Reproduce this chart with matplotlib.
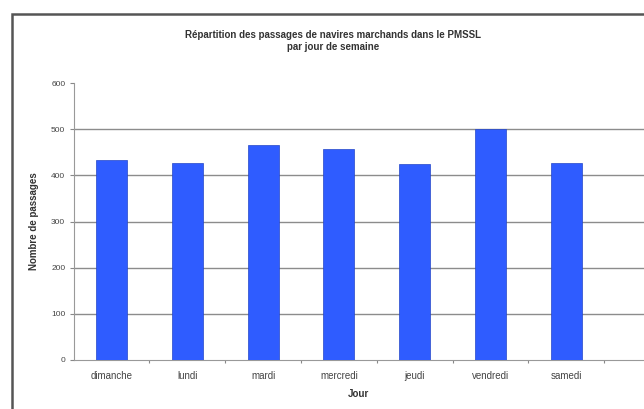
import matplotlib
matplotlib.use("Agg")
import matplotlib.pyplot as plt
from matplotlib.patches import Rectangle

jours = ["dimanche", "lundi", "mardi", "mercredi", "jeudi", "vendredi", "samedi"]
passages = [434, 426, 465, 458, 424, 501, 426]
yticks = [0, 100, 200, 300, 400, 500, 600]

plt.rcParams["font.family"] = ["Liberation Sans", "DejaVu Sans"]

W, H = 644, 409
fig = plt.figure(figsize=(W / 100, H / 100), dpi=100)

# outer chart frame (runs off the right and bottom edges)
fig.patches.append(Rectangle((12.5 / W, -0.05), 1.2, 1 - 14.5 / H + 0.05,
                             transform=fig.transFigure, fill=False,
                             edgecolor="#555555", linewidth=1.8, zorder=0))

left, right = 73.6, W
bottom, top = 360, 83
ax = fig.add_axes([left / W, 1 - bottom / H, (right - left) / W, (bottom - top) / H])
ax.set_facecolor("none")

x = range(len(jours))
ax.bar(x, passages, width=0.41, color="#2f5cff", edgecolor="#2446c8",
       linewidth=0.5, zorder=3)

ax.set_ylim(0, 600)
ax.set_xlim(-0.5, -0.5 + (right - left) / 75.8)
ax.set_yticks(yticks)
ax.set_yticklabels([str(v) for v in yticks], fontsize=6, color="#444444")
ax.set_xticks(list(x))
ax.set_xticklabels(jours, fontsize=7, color="#444444")
ax.set_xticks([i + 0.5 for i in range(len(jours))], minor=True)
ax.tick_params(axis="x", which="major", length=0, pad=8)
ax.tick_params(axis="x", which="minor", length=2.5, width=0.8, color="#888888")
ax.tick_params(axis="y", length=3, width=0.8, color="#888888", pad=3)

ax.yaxis.grid(True, color="#8c8c8c", linewidth=1.0, zorder=0)
ax.set_axisbelow(True)
gl = ax.get_ygridlines()
gl[0].set_visible(False)
gl[-1].set_visible(False)
for s in ["top", "right"]:
    ax.spines[s].set_visible(False)
ax.spines["left"].set_color("#999999")
ax.spines["bottom"].set_color("#999999")
ax.spines["left"].set_linewidth(0.8)
ax.spines["bottom"].set_linewidth(0.8)

ax.set_ylabel("Nombre de passages", fontsize=7, fontweight="bold",
              color="#333333", labelpad=9)
ax.set_xlabel("Jour", fontsize=7, fontweight="bold", color="#333333",
              labelpad=6)

fig.text(333 / W, 1 - 41 / H,
         "Répartition des passages de navires marchands dans le PMSSL\npar jour de semaine",
         ha="center", va="center", fontsize=7, fontweight="bold",
         color="#333333", linespacing=1.15)

fig.savefig("out.png", dpi=100)
